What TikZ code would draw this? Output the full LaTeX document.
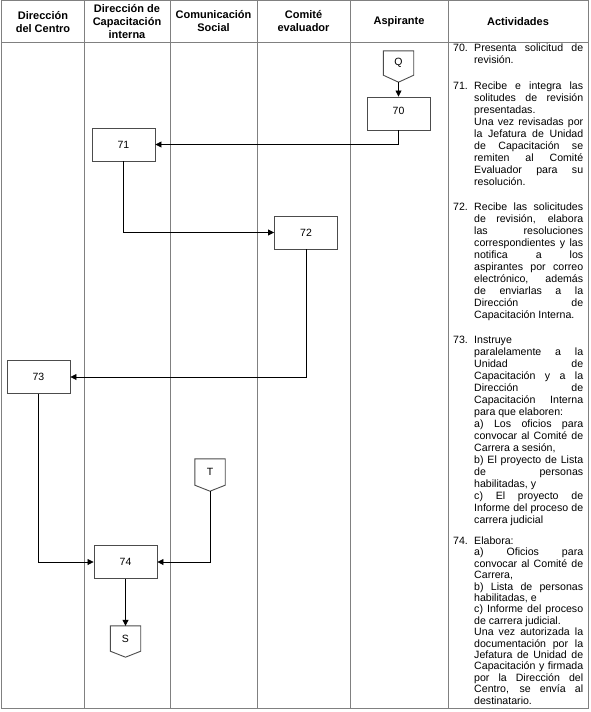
\documentclass[tikz,border=0pt]{standalone}
\usepackage{fontspec}
\setmainfont{Liberation Sans}
\usetikzlibrary{arrows.meta}
\newcommand\myjl[1]{\makebox[109pt][s]{#1}\par}
\newcommand\myll[1]{\makebox[109pt][l]{#1}\par}
\begin{document}
\begin{tikzpicture}[x=1pt,y=-1pt,
  grid/.style={draw=black!50, line width=0.8pt},
  hdr/.style={font=\fontsize{11}{13}\selectfont\bfseries, align=center, anchor=center, inner sep=0pt},
  box/.style={draw=black!70, line width=0.9pt, minimum width=63pt, minimum height=33pt, inner sep=0pt, font=\fontsize{10.5}{12}\selectfont},
  offp/.style={minimum width=30pt, inner sep=0pt, font=\fontsize{10.5}{12}\selectfont},
  shp/.style={draw=black!70, line width=0.9pt},
  flow/.style={draw=black, line width=0.8pt, -{Triangle[length=6pt,width=6pt]}},
  num/.style={anchor=base west, inner sep=0pt, font=\fontsize{10.6}{12}\selectfont},
  txt/.style={anchor=base west, inner sep=0pt, font=\fontsize{10.6}{12}\selectfont},
  txtb/.style={anchor=base west, inner sep=0pt, font=\fontsize{10.6}{11.4}\selectfont}
]
\useasboundingbox (0,0) rectangle (590,712);
\fill[white] (0,0) rectangle (590,712);
% table grid
\draw[grid] (1.5,0.5) rectangle (588.5,708);
\draw[grid] (1.5,42) -- (588.5,42);
\foreach \xx in {84,170.5,257,350.5,448} \draw[grid] (\xx,0.5) -- (\xx,708);
% headers
\node[hdr] (h1) at (43,22) {Dirección\\del Centro};
\node[hdr] (h2) at (127,22) {Dirección de\\Capacitación\\interna};
\node[hdr] (h3) at (213.5,21.5) {Comunicación\\Social};
\node[hdr] (h4) at (303.5,21.5) {Comité\\evaluador};
\node[hdr] (h5) at (399,21.5) {Aspirante};
\node[hdr] (h6) at (518,21.5) {Actividades};
% off-page connectors
\node[offp, minimum height=24pt] (Q) at (398.5,63) {Q};
\coordinate (Qtip) at ([yshift=-7pt]Q.south);
\draw[shp] (Q.north west) -- (Q.north east) -- (Q.south east) -- (Qtip) -- (Q.south west) -- cycle;
\node[offp, minimum height=26pt] (T) at (210,472) {T};
\coordinate (Ttip) at ([yshift=-6pt]T.south);
\draw[shp] (T.north west) -- (T.north east) -- (T.south east) -- (Ttip) -- (T.south west) -- cycle;
\node[offp, minimum height=25pt] (S) at (125.5,638.5) {S};
\coordinate (Stip) at ([yshift=-6pt]S.south);
\draw[shp] (S.north west) -- (S.north east) -- (S.south east) -- (Stip) -- (S.south west) -- cycle;
% process boxes
\node[box] (n70) at (398.5,113.5) {\raisebox{6pt}{70}};
\node[box] (n71) at (123.5,144.5) {71};
\node[box] (n72) at (306,232.5) {72};
\node[box] (n73) at (38.5,377) {73};
\node[box] (n74) at (125.5,562) {74};
% connectors
\draw[flow] (Qtip) -- (n70.north);
\draw[flow] (n70.south) |- (n71.east);
\draw[flow] (n71.south) |- (n72.west);
\draw[flow] (n72.south) |- (n73.east);
\draw[flow] (n73.south) |- (n74.west);
\draw[flow] (Ttip) |- (n74.east);
\draw[flow] (n74.south) -- (S.north);
% activities
\node[num] (a70) at (453,51.5) {70.};
\node[txt] (t70) at (474,51.5) {\parbox[t]{109pt}{%
\myjl{Presenta solicitud de}
\myll{revisión.}}};
\node[num] (a71) at (453,89.5) {71.};
\node[txt] (t71) at (474,89.5) {\parbox[t]{109pt}{%
\myjl{Recibe e integra las}
\myjl{solitudes de revisión}
\myll{presentadas.}
\myjl{Una vez revisadas por}
\myjl{la Jefatura de Unidad}
\myjl{de Capacitación se}
\myjl{remiten al Comité}
\myjl{Evaluador para su}
\myll{resolución.}}};
\node[num] (a72) at (453,210.5) {72.};
\node[txt] (t72) at (474,210.5) {\parbox[t]{109pt}{%
\myjl{Recibe las solicitudes}
\myjl{de revisión, elabora}
\myjl{las resoluciones}
\myjl{correspondientes y las}
\myjl{notifica a los}
\myjl{aspirantes por correo}
\myjl{electrónico, además}
\myjl{de enviarlas a la}
\myjl{Dirección de}
\myll{Capacitación Interna.}}};
\node[num] (a73) at (453,343.5) {73.};
\node[txt] (t73) at (474,343.5) {\parbox[t]{109pt}{%
\myll{Instruye}
\myjl{paralelamente a la}
\myjl{Unidad de}
\myjl{Capacitación y a la}
\myjl{Dirección de}
\myjl{Capacitación Interna}
\myll{para que elaboren:}
\myjl{a) Los oficios para}
\myjl{convocar al Comité de}
\myll{Carrera a sesión,}
\myjl{b) El proyecto de Lista}
\myjl{de personas}
\myll{habilitadas, y}
\myjl{c) El proyecto de}
\myjl{Informe del proceso de}
\myll{carrera judicial}}};
\node[num] (a74) at (453,544.5) {74.};
\node[txtb] (t74) at (474,544.5) {\parbox[t]{109pt}{%
\myll{Elabora:}
\myjl{a) Oficios para}
\myjl{convocar al Comité de}
\myll{Carrera,}
\myjl{b) Lista de personas}
\myll{habilitadas, e}
\myjl{c) Informe del proceso}
\myll{de carrera judicial.}
\myjl{Una vez autorizada la}
\myjl{documentación por la}
\myjl{Jefatura de Unidad de}
\myjl{Capacitación y firmada}
\myjl{por la Dirección del}
\myjl{Centro, se envía al}
\myll{destinatario.}}};
\end{tikzpicture}
\end{document}
